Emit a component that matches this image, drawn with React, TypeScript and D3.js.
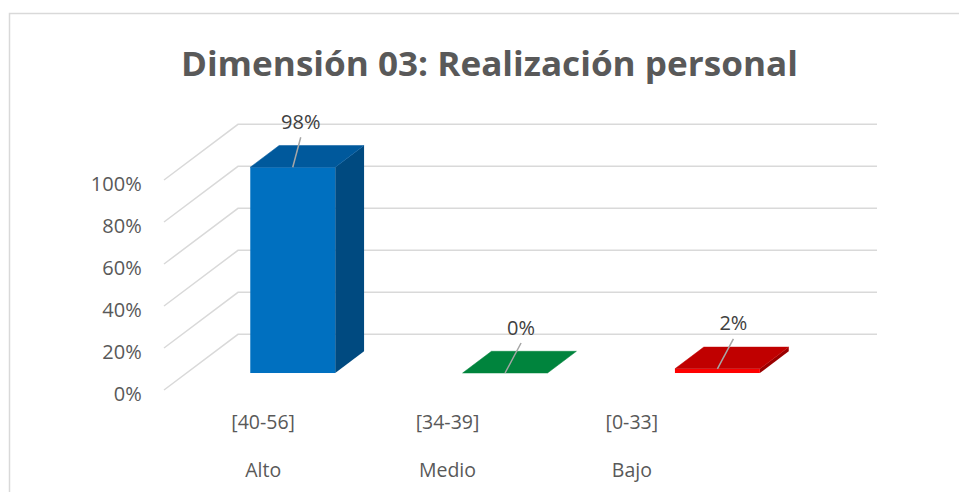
import React from "react";
import * as d3 from "d3";

const categories = ["Alto", "Medio", "Bajo"];
const ranges = ["[40-56]", "[34-39]", "[0-33]"];
const values = [0.98, 0.0, 0.02];
const valueLabels = ["98%", "0%", "2%"];
const yTicks = [0, 0.2, 0.4, 0.6, 0.8, 1.0];
const title = "Dimensión 03: Realización personal";

// style
const palette = [
  { front: "#0070c0", top: "#00599c", side: "#004a80" },
  { front: "#00843d", top: "#00843d", side: "#006a30" },
  { front: "#ff0000", top: "#c00000", side: "#9a0000" },
];
const labelNudge = [8, 16, 16];

const W = 959;
const H = 492;
const FRONT_LEFT = 164;
const FRONT_RIGHT = 801;
const FLOOR_Y = 390;
const PLOT_H = 210;
const DEPTH = { dx: 74, dy: -55.7 };
const BACK_RIGHT = 877;
const BAR_DEPTH_FRAC = 0.39;
const BAR_WIDTH_FRAC = 0.4;

const font = "'Open Sans', 'DejaVu Sans', sans-serif";

export default function App() {
  const y = d3.scaleLinear().domain([0, 1]).range([FLOOR_Y, FLOOR_Y - PLOT_H]);
  const x = d3.scaleBand<string>().domain(categories).range([FRONT_LEFT, FRONT_RIGHT]);
  const labelX = d3.scaleBand<string>().domain(categories).range([171, 724]);
  const bw = x.bandwidth();
  const fOff = (1 - BAR_DEPTH_FRAC) / 2;
  const f = { dx: DEPTH.dx * fOff, dy: DEPTH.dy * fOff };
  const bd = { dx: DEPTH.dx * BAR_DEPTH_FRAC, dy: DEPTH.dy * BAR_DEPTH_FRAC };
  const pct = d3.format(".0%");

  return (
    <svg
      width={W}
      height={H}
      style={{ position: "absolute", left: 0, top: 0, background: "#fff" }}
    >
      <rect x={0} y={0} width={W} height={H} fill="#fff" />
      <rect x={9.5} y={13.5} width={W + 20} height={H + 20} fill="#fff" stroke="#d9d9d9" strokeWidth={1.5} />

      <text
        x={489.4}
        y={76}
        textAnchor="middle"
        fontFamily={font}
        fontWeight={700}
        fontSize={34}
        fill="#595959"
        textLength={617}
        lengthAdjust="spacingAndGlyphs"
      >
        {title}
      </text>

      {/* gridlines: left wall diagonals + back wall horizontals */}
      {yTicks.map((t) => {
        const yf = y(t);
        const yb = yf + DEPTH.dy;
        const xb = FRONT_LEFT + DEPTH.dx;
        return (
          <g key={"g" + t}>
            <path
              d={`M${FRONT_LEFT},${yf}L${xb},${yb}L${BACK_RIGHT},${yb}`}
              fill="none"
              stroke="#d9d9d9"
              strokeWidth={1.5}
            />
            <text
              x={141.7}
              y={yf + 3}
              textAnchor="end"
              dominantBaseline="central"
              fontFamily={font}
              fontSize={20}
              fill="#595959"
            >
              {pct(t)}
            </text>
          </g>
        );
      })}

      {/* bars */}
      {categories.map((c, i) => {
        const v = values[i];
        const col = palette[i];
        const x0 = (x(c) as number) + bw * (1 - BAR_WIDTH_FRAC) / 2 + f.dx;
        const x1 = x0 + bw * BAR_WIDTH_FRAC;
        const yT = y(v) + f.dy;
        const yB = y(0) + f.dy;
        const top = `M${x0},${yT}L${x1},${yT}L${x1 + bd.dx},${yT + bd.dy}L${x0 + bd.dx},${yT + bd.dy}Z`;
        const side = `M${x1},${yT}L${x1 + bd.dx},${yT + bd.dy}L${x1 + bd.dx},${yB + bd.dy}L${x1},${yB}Z`;
        const cx = (x0 + x1) / 2;
        const lx = cx + labelNudge[i];
        const ly = yT - 30;
        return (
          <g key={c}>
            <path d={side} fill={col.side} />
            {yB - yT > 0.1 && (
              <rect x={x0} y={yT} width={x1 - x0} height={yB - yT} fill={col.front} />
            )}
            <path d={top} fill={col.top} stroke={col.top} strokeWidth={0.5} />
            <line x1={cx} y1={yT} x2={lx} y2={ly} stroke="#a6a6a6" strokeWidth={1.5} />
            <text
              x={lx}
              y={ly - 16}
              textAnchor="middle"
              dominantBaseline="central"
              fontFamily={font}
              fontSize={20}
              fill="#404040"
            >
              {valueLabels[i]}
            </text>
          </g>
        );
      })}

      {/* category labels */}
      {categories.map((c, i) => {
        const cx = (labelX(c) as number) + labelX.bandwidth() / 2;
        return (
          <g key={"l" + c}>
            <text x={cx} y={421.7} textAnchor="middle" dominantBaseline="central" fontFamily={font} fontSize={19.5} fill="#595959">
              {ranges[i]}
            </text>
            <text x={cx} y={469} textAnchor="middle" dominantBaseline="central" fontFamily={font} fontSize={19.5} fill="#595959">
              {c}
            </text>
          </g>
        );
      })}
    </svg>
  );
}
